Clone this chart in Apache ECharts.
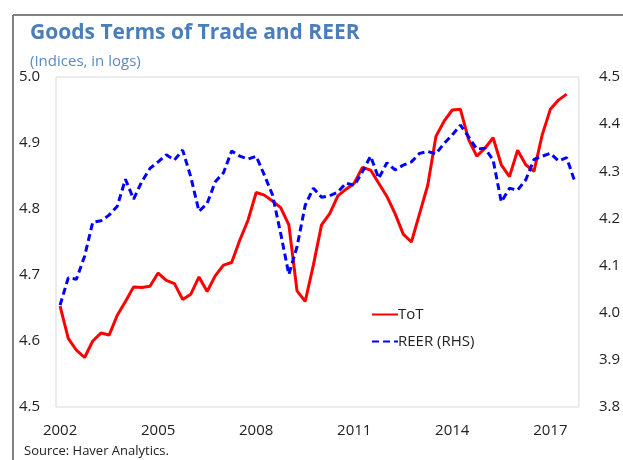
<!DOCTYPE html>
<html>
<head>
<meta charset="utf-8">
<title>Goods Terms of Trade and REER</title>
<script src="https://cdn.jsdelivr.net/npm/echarts@6/dist/echarts.min.js"></script>
<style>
  html, body { margin: 0; padding: 0; background: #fff; }
  #chart { width: 623px; height: 460px; }
</style>
</head>
<body>
<div id="chart"></div>
<script>
// Quarterly categories, 2002Q1 - 2017Q4
const years = []
for (let y = 2002; y <= 2017; y++) years.push(y)
const quarters = years.flatMap(y => [1, 2, 3, 4].map(q => `${y}Q${q}`))

// Goods terms of trade (left axis, log index)
const totValues = [
  4.653, 4.604, 4.586, 4.575, 4.600, 4.612, 4.609, 4.639,
  4.660, 4.682, 4.681, 4.683, 4.703, 4.692, 4.687, 4.663,
  4.671, 4.697, 4.675, 4.699, 4.715, 4.719, 4.753, 4.783,
  4.825, 4.821, 4.812, 4.802, 4.776, 4.676, 4.660, 4.715,
  4.776, 4.793, 4.820, 4.830, 4.839, 4.863, 4.859, 4.839,
  4.819, 4.793, 4.762, 4.750, 4.793, 4.836, 4.910, 4.933,
  4.950, 4.951, 4.905, 4.880, 4.892, 4.908, 4.867, 4.849,
  4.889, 4.867, 4.857, 4.912, 4.951, 4.965, 4.974
]

// Real effective exchange rate (right axis, log index)
const reerValues = [
  4.016, 4.074, 4.071, 4.120, 4.192, 4.195, 4.207, 4.226,
  4.283, 4.241, 4.278, 4.306, 4.320, 4.335, 4.324, 4.345,
  4.288, 4.215, 4.232, 4.278, 4.297, 4.343, 4.332, 4.326,
  4.332, 4.292, 4.250, 4.168, 4.081, 4.140, 4.228, 4.264,
  4.245, 4.248, 4.256, 4.275, 4.270, 4.299, 4.332, 4.285,
  4.318, 4.303, 4.313, 4.320, 4.338, 4.342, 4.337, 4.359,
  4.377, 4.398, 4.373, 4.347, 4.349, 4.324, 4.235, 4.264,
  4.260, 4.282, 4.325, 4.332, 4.338, 4.322, 4.329, 4.278
]

const leftTicks = { min: 4.5, max: 5.0, interval: 0.1 }
const rightTicks = { min: 3.8, max: 4.5, interval: 0.1 }

const titleColor = '#4A7EBB'
const textColor = '#222'
const font = "'Open Sans', 'Noto Sans', sans-serif"

const chart = echarts.init(document.getElementById('chart'))

const valueAxis = (ticks, position, margin) => ({
  type: 'value',
  position,
  min: ticks.min,
  max: ticks.max,
  interval: ticks.interval,
  axisLine: { show: false },
  axisTick: { show: false },
  splitLine: { show: false },
  axisLabel: {
    color: textColor,
    fontSize: 15,
    fontFamily: font,
    margin,
    formatter: v => v.toFixed(1)
  }
})

chart.setOption({
  animation: false,
  title: [
    {
      text: 'Goods Terms of Trade and REER',
      subtext: '(Indices, in logs)',
      left: 30,
      top: 23,
      padding: 0,
      itemGap: 10,
      textStyle: { color: titleColor, fontSize: 21, fontWeight: 'bold', fontFamily: font },
      subtextStyle: { color: '#5A8AC6', fontSize: 15, fontFamily: font }
    },
    {
      text: 'Source: Haver Analytics.',
      left: 24,
      top: 445,
      padding: 0,
      textStyle: { color: textColor, fontSize: 13, fontWeight: 'normal', fontFamily: font }
    }
  ],
  // outer frame (top and left edges only are visible in the picture)
  graphic: [
    { type: 'line', shape: { x1: 13, y1: 15, x2: 623, y2: 15 }, style: { stroke: '#808080', lineWidth: 2 } },
    { type: 'line', shape: { x1: 13, y1: 15, x2: 13, y2: 460 }, style: { stroke: '#808080', lineWidth: 2 } }
  ],
  legend: {
    orient: 'vertical',
    left: 366,
    top: 302,
    itemWidth: 26,
    itemHeight: 3,
    itemGap: 12,
    itemStyle: { opacity: 0 },
    textStyle: { color: textColor, fontSize: 15, fontFamily: font, padding: [0, 0, 0, -5] },
    data: ['ToT', 'REER (RHS)']
  },
  grid: {
    left: 56,
    right: 36,
    top: 77,
    bottom: 53,
    show: true,
    borderColor: '#D9D9D9',
    borderWidth: 1
  },
  xAxis: {
    type: 'category',
    data: quarters,
    boundaryGap: true,
    axisLine: { show: false },
    axisTick: { show: false },
    splitLine: { show: false },
    axisLabel: {
      color: textColor,
      fontSize: 15,
      fontFamily: font,
      margin: 16,
      interval: i => i % 12 === 0,
      formatter: v => v.slice(0, 4)
    }
  },
  yAxis: [
    valueAxis(leftTicks, 'left', 16),
    valueAxis(rightTicks, 'right', 20)
  ],
  series: [
    {
      name: 'ToT',
      type: 'line',
      data: totValues,
      symbol: 'none',
      lineStyle: { color: '#FF0000', width: 3 },
      itemStyle: { color: '#FF0000' }
    },
    {
      name: 'REER (RHS)',
      type: 'line',
      yAxisIndex: 1,
      data: reerValues,
      symbol: 'none',
      lineStyle: { color: '#0000FF', width: 3, type: [7, 4] },
      itemStyle: { color: '#0000FF' }
    }
  ]
})
</script>
</body>
</html>
